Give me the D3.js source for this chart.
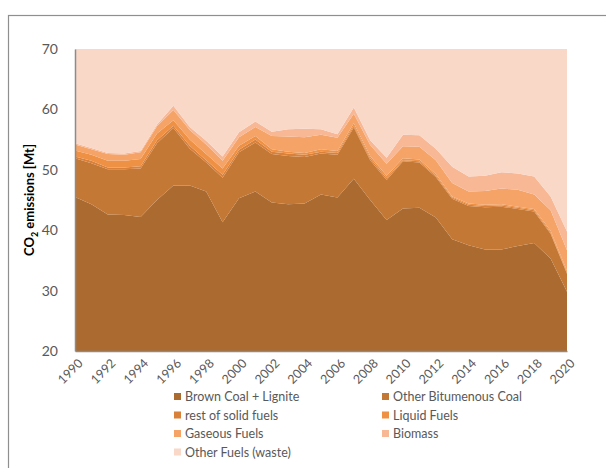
<!DOCTYPE html>
<html>
<head>
<meta charset="utf-8">
<script src="https://cdn.jsdelivr.net/npm/d3@7"></script>
<style>
  body { margin: 0; background: #fff; }
  text { font-family: Lato, "Open Sans", sans-serif; fill: #595959; }
</style>
</head>
<body>
<script>
// Data (Mt CO2 per fuel, stacked).
const years = d3.range(1990, 2021);
const brownCoal = [45.5, 44.3, 42.6, 42.5, 42.2, 45.0, 47.4, 47.4, 46.4, 41.3,
  45.3, 46.4, 44.6, 44.3, 44.4, 45.9, 45.4, 48.5, 45.0, 41.7,
  43.6, 43.7, 42.1, 38.5, 37.5, 36.8, 36.8, 37.4, 37.9, 35.3, 29.8];
const bitumenous = [6.4, 6.8, 7.5, 7.6, 8.0, 9.4, 9.5, 6.1, 4.8, 7.4,
  7.6, 8.1, 8.0, 8.0, 7.7, 6.8, 7.1, 8.5, 6.6, 6.6,
  7.8, 7.5, 6.7, 6.7, 6.5, 7.0, 7.1, 6.1, 5.2, 4.1, 3.0];
const restSolid = [0.3, 0.4, 0.3, 0.3, 0.4, 0.5, 0.4, 0.5, 0.4, 0.5,
  0.4, 0.5, 0.4, 0.4, 0.4, 0.3, 0.3, 0.3, 0.3, 0.3,
  0.2, 0.2, 0.2, 0.2, 0.2, 0.2, 0.2, 0.2, 0.2, 0.2, 0.2];
const liquid = [1.0, 1.0, 1.1, 1.1, 1.2, 1.1, 0.9, 1.0, 1.0, 1.0,
  0.7, 0.6, 0.4, 0.3, 0.3, 0.4, 0.3, 0.4, 0.4, 0.4,
  0.3, 0.3, 0.3, 0.2, 0.2, 0.2, 0.2, 0.2, 0.2, 0.3, 0.3];
const gaseous = [1.0, 0.9, 1.1, 1.0, 1.1, 1.2, 1.7, 1.6, 1.6, 1.3,
  1.4, 1.5, 2.2, 2.5, 2.6, 2.4, 2.2, 1.6, 1.8, 2.0,
  2.0, 2.1, 2.3, 2.2, 2.0, 2.3, 2.6, 2.8, 2.4, 3.4, 3.4];
const biomass = [0.2, 0.2, 0.2, 0.2, 0.2, 0.3, 0.7, 0.5, 0.6, 0.7,
  0.8, 0.9, 0.7, 1.2, 1.4, 0.9, 0.6, 1.0, 0.8, 1.0,
  1.9, 1.9, 1.9, 2.7, 2.5, 2.5, 2.7, 2.7, 3.0, 2.3, 3.1];
// the waste series runs past the top of the axis and is cut off at 70
const waste = [16, 17, 18, 18, 17, 13, 10, 13, 16, 18,
  14, 12, 14, 14, 14, 14, 15, 10, 16, 18,
  15, 15, 17, 20, 22, 22, 21, 21, 22, 25, 31];

const seriesNames = ['Brown Coal + Lignite', 'Other Bitumenous Coal', 'rest of solid fuels',
  'Liquid Fuels', 'Gaseous Fuels', 'Biomass', 'Other Fuels (waste)'];
const seriesColors = ['#aa6a30', '#c47835', '#d9803b', '#ee9144', '#f5a366', '#f8b895', '#f9d8c8'];
const yTicks = [20, 30, 40, 50, 60, 70];
const xTicks = d3.range(1990, 2021, 2);

const columns = [brownCoal, bitumenous, restSolid, liquid, gaseous, biomass, waste];
const table = years.map((yr, i) => {
  const row = {year: yr};
  seriesNames.forEach((name, k) => { row[name] = columns[k][i]; });
  return row;
});

// Dimensions.
const W = 606, H = 468;
const plot = {left: 75, right: 567, top: 49, bottom: 351};

const svg = d3.select('body').append('svg')
  .attr('width', W)
  .attr('height', H);

// Outer frame (only top and left edges are visible in the window).
svg.append('rect')
  .attr('x', 8.5).attr('y', 15.5)
  .attr('width', W).attr('height', H)
  .attr('fill', 'none')
  .attr('stroke', '#8f8f8f')
  .attr('stroke-width', 1.2);

const xScale = d3.scaleLinear().domain([1990, 2020]).range([plot.left, plot.right]);
const yScale = d3.scaleLinear().domain([20, 70]).range([plot.bottom, plot.top]);

const stack = d3.stack().keys(seriesNames);
const layers = stack(table);

svg.append('clipPath').attr('id', 'plot-clip')
  .append('rect')
  .attr('x', plot.left).attr('y', plot.top)
  .attr('width', plot.right - plot.left)
  .attr('height', plot.bottom - plot.top);

const area = d3.area()
  .x((d) => xScale(d.data.year))
  .y0((d) => yScale(d[0]))
  .y1((d) => yScale(d[1]));

svg.append('g')
  .attr('clip-path', 'url(#plot-clip)')
  .selectAll('path')
  .data(layers)
  .enter()
  .append('path')
  .attr('d', area)
  .attr('fill', (d, i) => seriesColors[i]);

// Axes.
const yAxis = d3.axisLeft(yScale).tickValues(yTicks).tickSize(0).tickPadding(17);
const gy = svg.append('g')
  .attr('transform', 'translate(' + plot.left + ',0)')
  .call(yAxis);
gy.select('.domain').attr('stroke', '#8c8c8c').attr('stroke-width', 1.5);
gy.selectAll('text').style('font-size', '14px');

const xAxis = d3.axisBottom(xScale).tickValues(xTicks).tickSize(0).tickFormat(d3.format('d'));
const gx = svg.append('g')
  .attr('transform', 'translate(0,' + plot.bottom + ')')
  .call(xAxis);
gx.select('.domain').attr('stroke', '#8c8c8c').attr('stroke-width', 1.5);
gx.selectAll('text')
  .style('font-size', '12.5px')
  .style('text-anchor', 'end')
  .attr('dy', 0)
  .attr('transform', 'translate(6,11) rotate(-45)');

// Y axis title with subscript.
const title = svg.append('text')
  .attr('transform', 'translate(34,' + ((plot.top + plot.bottom) / 2) + ') rotate(-90)')
  .attr('text-anchor', 'middle')
  .style('font-size', '13px')
  .style('font-weight', 'bold')
  .style('fill', '#000');
title.append('tspan').text('CO');
title.append('tspan').text('2').attr('dy', 4).style('font-size', '9px');
title.append('tspan').text(' emissions [Mt]').attr('dy', -4);

// Legend.
const legend = svg.append('g');
const legendItems = legend.selectAll('g')
  .data(seriesNames)
  .enter()
  .append('g')
  .attr('transform', (d, i) => 'translate(' + (i % 2 === 0 ? 174 : 382) + ',' + (397 + 18.5 * Math.floor(i / 2)) + ')');
legendItems.append('rect')
  .attr('x', 0).attr('y', -4)
  .attr('width', 7).attr('height', 7)
  .attr('fill', (d, i) => seriesColors[i]);
legendItems.append('text')
  .attr('x', 11).attr('y', 0)
  .attr('dy', '0.35em')
  .style('font-size', '12.5px')
  .text((d) => d);
</script>
</body>
</html>
